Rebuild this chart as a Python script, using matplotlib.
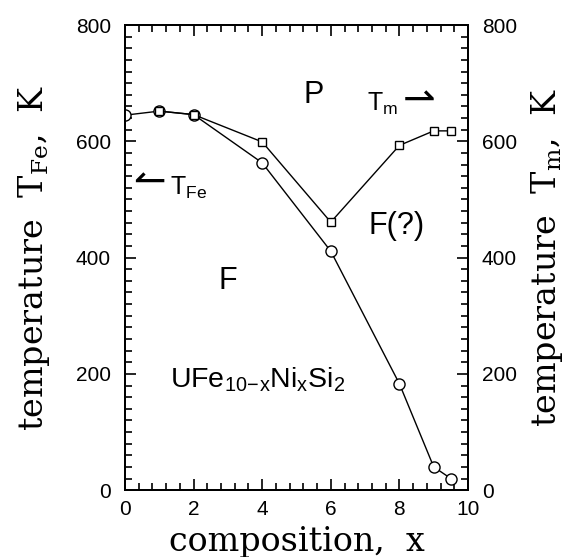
import matplotlib
matplotlib.use("Agg")
import matplotlib.pyplot as plt
from matplotlib.ticker import MultipleLocator

# data
x_fe = [0, 1, 2, 4, 6, 8, 9, 9.5]
t_fe = [645, 652, 646, 563, 411, 183, 40, 20]
x_m = [1, 2, 4, 6, 8, 9, 9.5]
t_m = [652, 646, 599, 461, 593, 618, 618]

tick_font = ["Liberation Sans", "DejaVu Sans"]
label_font = "DejaVu Serif"
plt.rcParams["mathtext.fontset"] = "custom"
plt.rcParams["mathtext.rm"] = "Liberation Sans"
plt.rcParams["mathtext.it"] = "Liberation Sans"

fig = plt.figure(figsize=(5.72, 5.57), dpi=100)
ax = fig.add_axes([0.2185, 0.12, 0.5997, 0.835])

ax.plot(x_fe, t_fe, color="black", lw=1.0, marker="o", ms=8, mfc="white", mec="black", mew=1.0, zorder=3)
ax.plot(x_m, t_m, color="black", lw=1.0, marker="s", ms=6, mfc="white", mec="black", mew=1.0, zorder=4)

ax.set_xlim(0, 10)
ax.set_ylim(0, 800)
ax.xaxis.set_major_locator(MultipleLocator(2))
ax.xaxis.set_minor_locator(MultipleLocator(0.4))
ax.yaxis.set_major_locator(MultipleLocator(200))
ax.yaxis.set_minor_locator(MultipleLocator(20))
ax.tick_params(which="both", direction="in", top=True, right=False, width=1.2)
ax.tick_params(which="major", length=8, labelsize=15, pad=10)
ax.tick_params(axis="x", which="major", pad=7)
ax.tick_params(which="minor", length=5)
for lab in ax.get_xticklabels() + ax.get_yticklabels():
    lab.set_fontfamily(tick_font)
for s in ax.spines.values():
    s.set_linewidth(1.4)

ax2 = ax.twinx()
ax2.set_ylim(0, 800)
ax2.yaxis.set_major_locator(MultipleLocator(200))
ax2.yaxis.set_minor_locator(MultipleLocator(20))
ax2.tick_params(which="both", direction="in", width=1.2)
ax2.tick_params(which="major", length=8, labelsize=15, pad=10)
ax2.tick_params(which="minor", length=5)
for lab in ax2.get_yticklabels():
    lab.set_fontfamily(tick_font)
for s in ax2.spines.values():
    s.set_linewidth(1.4)

ax.set_xlabel("composition,  x", fontsize=24, family=label_font, labelpad=5)
ax.set_ylabel(r"temperature  T$_{\mathrm{Fe}}$,  K", fontsize=24, family=label_font,
              math_fontfamily="dejavuserif", va="center")
ax2.set_ylabel(r"temperature  T$_{\mathrm{m}}$,  K", fontsize=24, family=label_font,
               math_fontfamily="dejavuserif", va="center")
ax.yaxis.set_label_coords(-0.265, 0.5)
ax2.yaxis.set_label_coords(1.23, 0.5)

tf = dict(family=tick_font, color="black")
ax.text(5.5, 680, "P", fontsize=22, ha="center", va="center", **tf)
ax.text(7.05, 665, r"T$_{\mathrm{m}}$", fontsize=18, ha="left", va="center", **tf)
ax.text(8.1, 672, "⇀", fontsize=28, ha="left", va="center", family="DejaVu Sans")
ax.text(0.25, 530, "↼", fontsize=28, ha="left", va="center", family="DejaVu Sans")
ax.text(1.3, 520, r"T$_{\mathrm{Fe}}$", fontsize=18, ha="left", va="center", **tf)
ax.text(7.1, 455, "F(?)", fontsize=22, ha="left", va="center", **tf)
ax.text(3.0, 360, "F", fontsize=22, ha="center", va="center", **tf)
ax.text(1.3, 190, r"UFe$_{10\!-\!x}$Ni$_x$Si$_2$", fontsize=20.5, ha="left", va="center", **tf)

fig.savefig("out.png", dpi=100)
